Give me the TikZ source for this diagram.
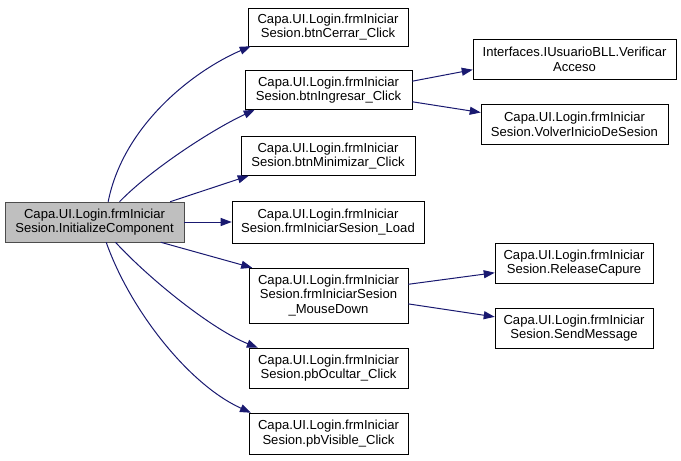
\documentclass[tikz,border=0pt]{standalone}
\usepackage{fontspec}
\setmainfont{Liberation Sans}
\usetikzlibrary{arrows.meta}
\definecolor{edgeblue}{HTML}{191970}

\begin{document}
\begin{tikzpicture}[
    x=0.75pt, y=-0.75pt,
    every node/.style={draw, fill=white, inner sep=0pt, minimum height=29.25pt, align=center, font=\fontsize{9.8}{11}\selectfont},
    call/.style={draw=edgeblue, line width=0.75pt, -{Triangle[length=8.25pt,width=6pt]}}
  ]
    \useasboundingbox (0,0) rectangle (681,460);
    \node[fill=black!25, draw=black!70, minimum width=134.25pt, minimum height=30pt] (root) at (94.5,222) {Capa.UI.Login.frmIniciar\\Sesion.InitializeComponent};
    \node[minimum width=120pt, minimum height=28.5pt] (cerrar) at (328,27) {Capa.UI.Login.frmIniciar\\Sesion.btnCerrar\_Click};
    \node[minimum width=125.25pt] (ingresar) at (328.5,90) {Capa.UI.Login.frmIniciar\\Sesion.btnIngresar\_Click};
    \node[minimum width=130.5pt] (minimizar) at (328,156) {Capa.UI.Login.frmIniciar\\Sesion.btnMinimizar\_Click};
    \node[minimum width=144pt, minimum height=31.5pt] (load) at (328,222) {Capa.UI.Login.frmIniciar\\Sesion.frmIniciarSesion\_Load};
    \node[minimum width=119.25pt, minimum height=41.25pt] (mousedown) at (328.5,295.5) {Capa.UI.Login.frmIniciar\\Sesion.frmIniciarSesion\\\_MouseDown};
    \node[minimum width=119.25pt, minimum height=30pt] (ocultar) at (328.5,368) {Capa.UI.Login.frmIniciar\\Sesion.pbOcultar\_Click};
    \node[minimum width=119.25pt, minimum height=30.75pt] (visible) at (328.5,433.5) {Capa.UI.Login.frmIniciar\\Sesion.pbVisible\_Click};
    \node[minimum width=152.25pt, minimum height=30pt] (verificar) at (574.5,59) {Interfaces.IUsuarioBLL.Verificar\\Acceso};
    \node[minimum width=140.25pt, minimum height=30pt] (volver) at (574.5,124) {Capa.UI.Login.frmIniciar\\Sesion.VolverInicioDeSesion};
    \node[minimum width=118.5pt, minimum height=30pt] (release) at (574,263) {Capa.UI.Login.frmIniciar\\Sesion.ReleaseCapure};
    \node[minimum width=118.5pt, minimum height=30pt] (sendmsg) at (574,328) {Capa.UI.Login.frmIniciar\\Sesion.SendMessage};

    % calls from InitializeComponent
    \draw[call] (root.56) .. controls +(15,-76) and +(-58,25) .. (cerrar.194);
    \draw[call] (root.39) .. controls +(31,-32) and +(-43,20) .. (ingresar.195.5);
    \draw[call] (root.15.4) -- (minimizar.194.6);
    \draw[call] (root.east) -- (load.west);
    \draw[call] (root.-17) -- (mousedown.160.7);
    \draw[call] (root.-44) .. controls +(35,38) and +(-45,-18) .. (ocultar.164.8);
    \draw[call] (root.-60) .. controls +(24,68) and +(-62,-28) .. (visible.165);

    % second level
    \draw[call] (ingresar.6.2) -- (verificar.186.7);
    \draw[call] (ingresar.-8.9) -- (volver.173.3);
    \draw[call] (mousedown.8.2) -- (release.187.2);
    \draw[call] (mousedown.-6.8) -- (sendmsg.172);
  \end{tikzpicture}
\end{document}
